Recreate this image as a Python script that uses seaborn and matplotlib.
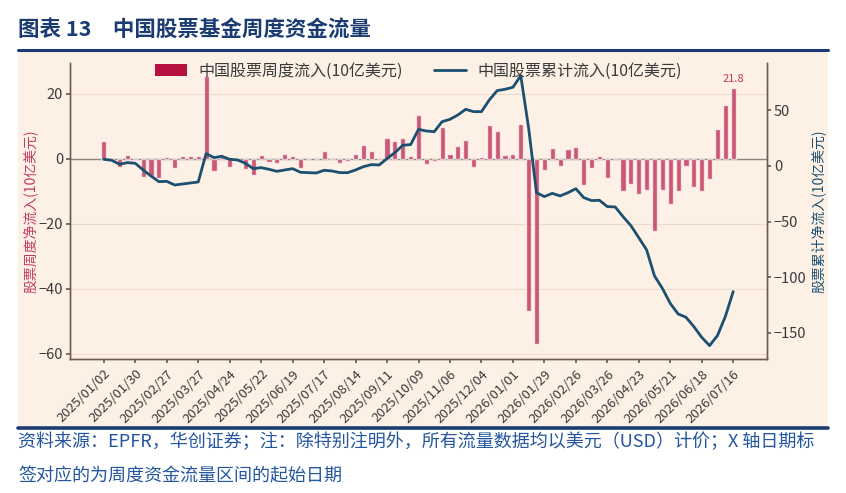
import numpy as np
import pandas as pd
import matplotlib
matplotlib.use("Agg")
import matplotlib.pyplot as plt
import seaborn as sns
from matplotlib.patches import Patch, Rectangle
from matplotlib.lines import Line2D

# ---------------- data ----------------
start_date = "2025-01-02"

weekly_flow = [
    5.3, -0.3, -2.5, 1.1, -0.5, -5.8, -5.4, -6.0, 0.5, -3.0,
    0.8, 0.7, 0.9, 25.4, -3.7, 0.6, -2.7, -0.3, -3.2, -4.9,
    1.1, -1.1, -1.4, 1.4, 0.7, -3.0, -0.2, -0.2, 2.2, -0.4,
    -1.4, -0.6, 1.4, 4.1, 2.3, -0.5, 6.3, 5.5, 6.4, 0.7,
    13.5, -1.6, -0.6, 9.6, 1.4, 4.0, 5.6, -2.5, 0.4, 10.3,
    8.6, 1.0, 1.4, 10.5, -46.7, -57.1, -3.6, 3.2, -2.4, 2.9,
    3.7, -8.1, -2.9, 0.7, -6.1, 0.1, -10.1, -7.9, -10.9, -9.5,
    -22.2, -9.7, -13.8, -9.9, -2.4, -8.8, -10.1, -6.2, 9.2, 16.5,
    21.8,
]

cum_flow = [
    6.0, 5.1, 1.5, 3.0, 2.4, -3.6, -9.0, -14.1, -13.8, -17.1,
    -16.2, -15.3, -14.4, 11.1, 7.5, 8.7, 6.0, 5.4, 2.4, -2.4,
    -1.5, -3.0, -4.8, -3.6, -2.4, -5.7, -6.0, -6.3, -3.9, -4.5,
    -6.0, -6.0, -3.6, -0.6, 1.2, 0.9, 6.6, 12.0, 18.6, 19.2,
    32.9, 31.4, 30.8, 39.8, 41.9, 45.8, 50.9, 48.8, 48.8, 59.3,
    67.7, 68.9, 70.7, 81.1, 34.0, -24.0, -27.5, -24.6, -26.9, -24.0,
    -20.4, -28.4, -31.1, -30.8, -36.5, -36.8, -45.5, -53.6, -64.4, -75.4,
    -98.8, -109.9, -123.4, -132.9, -135.9, -144.3, -153.9, -161.4, -152.4, -135.3,
    -112.9,
]

tick_labels = [
    "2025/01/02", "2025/01/30", "2025/02/27", "2025/03/27", "2025/04/24",
    "2025/05/22", "2025/06/19", "2025/07/17", "2025/08/14", "2025/09/11",
    "2025/10/09", "2025/11/06", "2025/12/04", "2026/01/01", "2026/01/29",
    "2026/02/26", "2026/03/26", "2026/04/23", "2026/05/21", "2026/06/18",
    "2026/07/16",
]

left_ticks = [20, 0, -20, -40, -60]
right_ticks = [50, 0, -50, -100, -150]

title_text = "图表 13\u3000中国股票基金周度资金流量"
bar_label = "中国股票周度流入(10亿美元)"
line_label = "中国股票累计流入(10亿美元)"
left_ylabel = "股票周度净流入(10亿美元)"
right_ylabel = "股票累计净流入(10亿美元)"
caption1 = "资料来源：EPFR，华创证券；注：除特别注明外，所有流量数据均以美元（USD）计价；X 轴日期标"
caption2 = "签对应的为周度资金流量区间的起始日期"

# ---------------- style ----------------
sns.set_theme(style="ticks")
plt.rcParams["font.family"] = ["Noto Sans CJK SC", "DejaVu Sans"]
plt.rcParams["axes.unicode_minus"] = True

peach = "#FDF0E5"
bar_color = "#B5123F"
line_color = "#1B5070"
navy = "#1B3C73"
spine_color = "#6B5D55"
text_color = "#3A3A3A"
red_text = "#C23B5E"

n = len(weekly_flow)
dates = pd.date_range(start_date, periods=n, freq="7D")
df = pd.DataFrame({
    "pos": np.arange(n),
    "date": dates.strftime("%Y/%m/%d"),
    "weekly": weekly_flow,
    "cum": cum_flow,
})

W, H = 846, 493
fig = plt.figure(figsize=(W / 100, H / 100), dpi=100)
fig.patch.set_facecolor("white")

# panel background and decorative rules
fig.add_artist(Rectangle((18 / W, 1 - 427 / H), (828 - 18) / W, (427 - 52) / H,
                         transform=fig.transFigure, facecolor=peach,
                         edgecolor="none", zorder=0))
fig.add_artist(Line2D([18 / W, 828 / W], [1 - 50 / H] * 2, color=navy, lw=2.2,
                      transform=fig.transFigure))
fig.add_artist(Line2D([18 / W, 828 / W], [1 - 428 / H] * 2, color=navy, lw=2.6,
                      transform=fig.transFigure))

fig.text(18 / W, 1 - 29 / H, title_text, fontsize=15.5, fontweight="bold",
         color=navy, va="center", ha="left")
fig.text(18 / W, 1 - 442 / H, caption1, fontsize=13, color="#2456A0",
         style="italic", va="center", ha="left")
fig.text(18 / W, 1 - 476 / H, caption2, fontsize=13, color="#2456A0",
         style="italic", va="center", ha="left")

ax = fig.add_axes([70 / W, 1 - 359 / H, (767 - 70) / W, (359 - 63) / H])
ax.set_facecolor(peach)

sns.barplot(data=df, x="pos", y="weekly", native_scale=True, width=0.65,
            color=bar_color, alpha=0.68, saturation=1, errorbar=None,
            ax=ax, zorder=3)
ax.axhline(0, color="#8E847D", lw=1.0, zorder=2)
ax.grid(axis="y", color="#EBDCCD", lw=0.8)
ax.set_axisbelow(True)

ax.set_xlim(-4.3, 84.3)
ax.set_ylim(-61.6, 29.4)
ax.set_yticks(left_ticks)
ax.set_xticks(np.arange(0, n, 4))
ax.set_xticklabels(tick_labels, rotation=45, ha="right", rotation_mode="anchor",
                   fontsize=9.5, color=text_color)
ax.tick_params(axis="y", labelsize=10.5, labelcolor=text_color, length=3,
               color=spine_color, left=True, pad=2)
ax.tick_params(axis="x", length=3, color=spine_color, bottom=True, pad=3)
ax.set_xlabel("")
ax.set_ylabel(left_ylabel, color=red_text, fontsize=10, labelpad=1)

ax.annotate(f"{weekly_flow[-1]:.1f}", xy=(n - 1, weekly_flow[-1]), xytext=(0, 3),
            textcoords="offset points", ha="center", va="bottom",
            fontsize=8, color=red_text)

ax2 = ax.twinx()
sns.lineplot(data=df, x="pos", y="cum", color=line_color, lw=2.0, ax=ax2)
ax2.set_ylim(-173.4, 92.5)
ax2.set_yticks(right_ticks)
ax2.tick_params(axis="y", labelsize=10.5, labelcolor=text_color, length=3,
                color=spine_color, right=True, pad=2)
ax2.set_ylabel(right_ylabel, color=line_color, fontsize=10, labelpad=3)
ax2.set_xlabel("")

for a in (ax, ax2):
    a.spines["top"].set_visible(False)
    for s in ("left", "right", "bottom"):
        a.spines[s].set_color(spine_color)
        a.spines[s].set_linewidth(1.0)

handles = [Patch(facecolor=bar_color, edgecolor="none"),
           Line2D([0], [0], color=line_color, lw=2)]
leg = ax2.legend(handles, [bar_label, line_label], loc="upper center",
                 bbox_to_anchor=(0.5, 1.05), ncol=2, frameon=False,
                 fontsize=11.5, columnspacing=2.0, handlelength=2.0,
                 handleheight=0.8, handletextpad=0.7)
for t in leg.get_texts():
    t.set_color(text_color)

fig.savefig("out.png", dpi=100, facecolor="white")
